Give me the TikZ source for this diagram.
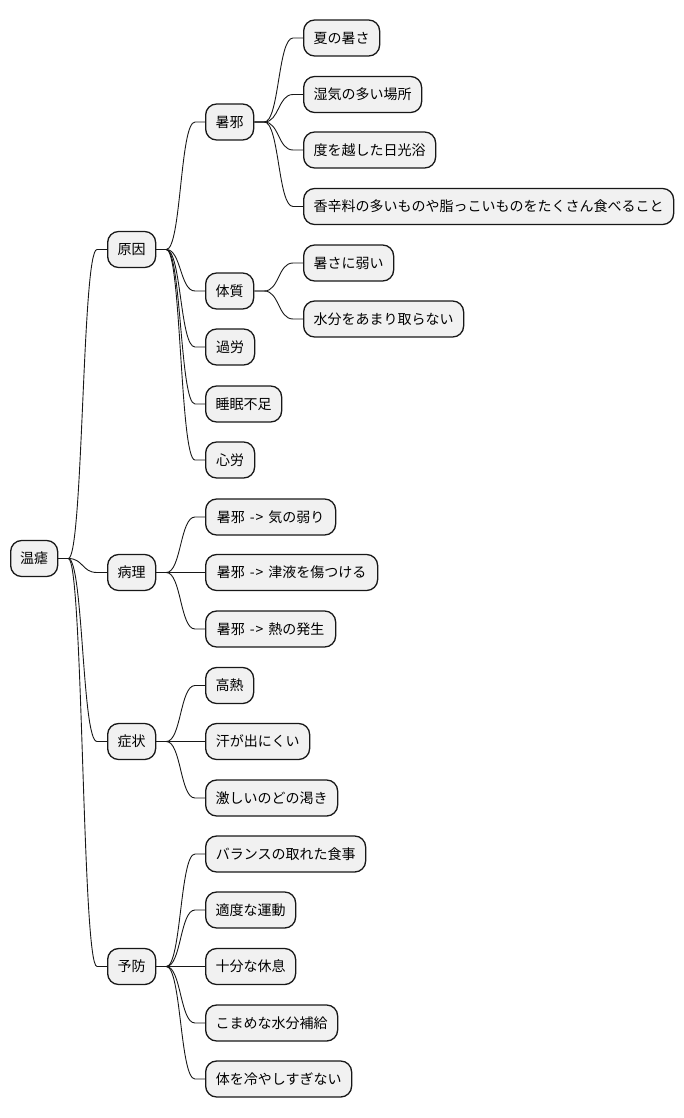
\documentclass[tikz,border=0pt]{standalone}
\usepackage{fontspec}
\newfontfamily\jp{Noto Sans CJK JP}
\usetikzlibrary{calc}
\definecolor{boxfill}{HTML}{F1F1F1}
\definecolor{ink}{HTML}{181818}
\tikzset{
  mm/.style={draw=ink, fill=boxfill, line width=1.3pt, rounded corners=11pt,
    minimum height=36pt, inner sep=0pt, anchor=west, align=center,
    font=\jp\fontsize{14}{16}\selectfont, text=black},
  edge/.style={draw=ink, line width=0.9pt}
}
\newcommand\arw{\hspace{5pt}-\kern0.8pt>\hspace{5pt}}
\newcommand\lnk[2]{\draw[edge] (#1.east) -- ($(#1.east)+(10,0)$) .. controls ($(#1.east)+(25,0)$) and ($(#2.west)+(-25,0)$) .. ($(#2.west)+(-10,0)$) -- (#2.west);}
\begin{document}
\begin{tikzpicture}[x=1pt,y=-1pt]
\useasboundingbox (0,0) rectangle (684,1118);
% root
\node[mm, minimum width=47pt] (root) at (10,558.5) {温瘧};
% level 1
\node[mm, minimum width=48pt] (gen) at (107,249.5) {原因};
\node[mm, minimum width=48pt] (byo) at (107,572.5) {病理};
\node[mm, minimum width=48pt] (sho) at (107,741.5) {症状};
\node[mm, minimum width=48pt] (yob) at (107,966.5) {予防};
% level 2
\node[mm, minimum width=48pt] (shoja) at (205,122) {暑邪};
\node[mm, minimum width=48pt] (tai) at (205,291) {体質};
\node[mm, minimum width=49pt] (karo) at (205,347) {過労};
\node[mm, minimum width=76pt] (sui) at (205,404) {睡眠不足};
\node[mm, minimum width=49pt] (shin) at (205,460) {心労};
\node[mm, minimum width=130pt] (p1) at (205,517) {暑邪\arw 気の弱り};
\node[mm, minimum width=172pt] (p2) at (205,572.5) {暑邪\arw 津液を傷つける};
\node[mm, minimum width=130pt] (p3) at (205,629) {暑邪\arw 熱の発生};
\node[mm, minimum width=48pt] (s1) at (205,685.5) {高熱};
\node[mm, minimum width=104pt] (s2) at (205,741.5) {汗が出にくい};
\node[mm, minimum width=132pt] (s3) at (205,798) {激しいのどの渇き};
\node[mm, minimum width=160pt] (y1) at (205,854) {バランスの取れた食事};
\node[mm, minimum width=90pt] (y2) at (205,910) {適度な運動};
\node[mm, minimum width=90pt] (y3) at (205,966.5) {十分な休息};
\node[mm, minimum width=132pt] (y4) at (205,1023) {こまめな水分補給};
\node[mm, minimum width=146pt] (y5) at (205,1079) {体を冷やしすぎない};
% level 3
\node[mm, minimum width=76pt] (a1) at (303,38) {夏の暑さ};
\node[mm, minimum width=118pt] (a2) at (303,94.5) {湿気の多い場所};
\node[mm, minimum width=132pt] (a3) at (303,150) {度を越した日光浴};
\node[mm, minimum width=370pt] (a4) at (303,206.5) {香辛料の多いものや脂っこいものをたくさん食べること};
\node[mm, minimum width=90pt] (b1) at (303,263) {暑さに弱い};
\node[mm, minimum width=160pt] (b2) at (303,319) {水分をあまり取らない};
% connectors
\lnk{root}{gen}\lnk{root}{byo}\lnk{root}{sho}\lnk{root}{yob}
\lnk{gen}{shoja}\lnk{gen}{tai}\lnk{gen}{karo}\lnk{gen}{sui}\lnk{gen}{shin}
\lnk{shoja}{a1}\lnk{shoja}{a2}\lnk{shoja}{a3}\lnk{shoja}{a4}
\lnk{tai}{b1}\lnk{tai}{b2}
\lnk{byo}{p1}\lnk{byo}{p2}\lnk{byo}{p3}
\lnk{sho}{s1}\lnk{sho}{s2}\lnk{sho}{s3}
\lnk{yob}{y1}\lnk{yob}{y2}\lnk{yob}{y3}\lnk{yob}{y4}\lnk{yob}{y5}
\end{tikzpicture}
\end{document}
